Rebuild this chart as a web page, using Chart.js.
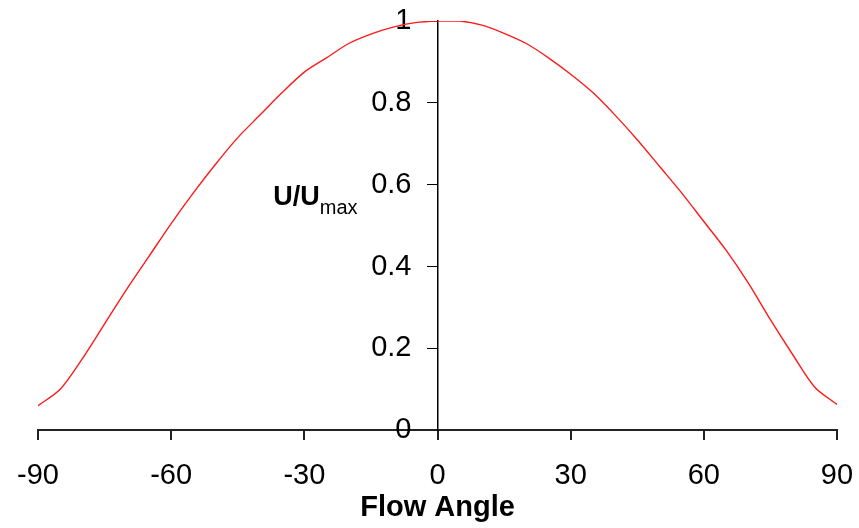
<!DOCTYPE html>
<html>
<head>
<meta charset="utf-8">
<script src="https://cdn.jsdelivr.net/npm/chart.js@4/dist/chart.umd.min.js"></script>
<style>
  html, body { margin: 0; padding: 0; background: #fff; }
  #wrap { width: 859px; height: 528px; }
</style>
</head>
<body>
<div id="wrap"><canvas id="flow-chart" width="859" height="528"></canvas></div>
<script>
// angles en degrés
const flowAngles = [-90, -85, -80, -75, -70, -65, -60, -55, -50, -45, -40, -35, -30, -25, -20, -15, -10, -5,
                    0, 5, 10, 15, 20, 25, 30, 35, 40, 45, 50, 55, 60, 65, 70, 75, 80, 85, 90];
// U/Umax
const velocityRatio = [0.06, 0.10, 0.175, 0.26, 0.345, 0.425, 0.505, 0.58, 0.65, 0.715, 0.77, 0.825, 0.875, 0.91, 0.945, 0.968, 0.985, 0.996,
                       1.0, 1.0, 0.99, 0.97, 0.945, 0.91, 0.87, 0.825, 0.77, 0.71, 0.645, 0.58, 0.51, 0.44, 0.36, 0.27, 0.185, 0.105, 0.063];
const xTicks = [-90, -60, -30, 0, 30, 60, 90];
const yTicks = [0, 0.2, 0.4, 0.6, 0.8, 1];

Chart.defaults.font.family = "'Liberation Sans', Arial, sans-serif";
Chart.defaults.color = '#000';

// titre de l'axe y avec indice "max"
const yTitlePlugin = {
  id: 'yTitle',
  afterDraw(chart) {
    const ctx = chart.ctx;
    const x = chart.scales.x.getPixelForValue(-37);
    const y = chart.scales.y.getPixelForValue(0.55);
    ctx.save();
    ctx.fillStyle = '#000';
    ctx.textBaseline = 'alphabetic';
    ctx.textAlign = 'left';
    ctx.font = "bold 27px 'Liberation Sans', Arial, sans-serif";
    ctx.fillText('U/U', x, y);
    const w = ctx.measureText('U/U').width;
    ctx.font = "20px 'Liberation Sans', Arial, sans-serif";
    ctx.fillText('max', x + w, y + 9);
    ctx.restore();
  }
};

const points = flowAngles.map((a, i) => ({ x: a, y: velocityRatio[i] }));

const ctx = document.getElementById('flow-chart').getContext('2d');
const flowChart = new Chart(ctx, {
  type: 'line',
  data: {
    datasets: [{
      data: points,
      borderColor: '#ff1a1a',
      borderWidth: 1.4,
      pointRadius: 0,
      fill: false,
      tension: 0.3
    }]
  },
  options: {
    responsive: false,
    animation: false,
    layout: { padding: { left: 38, right: 22, top: 21, bottom: 0 } },
    plugins: {
      legend: { display: false },
      tooltip: { enabled: false }
    },
    scales: {
      x: {
        type: 'linear',
        min: -90,
        max: 90,
        afterBuildTicks: axis => { axis.ticks = xTicks.map(v => ({ value: v })); },
        ticks: { font: { size: 29, lineHeight: 1.0 }, padding: 0, maxRotation: 0 },
        // marque de 9px, étiquette plus bas
        grid: { drawOnChartArea: false, drawTicks: true, tickLength: 31, color: '#222', lineWidth: 2, tickBorderDash: [9, 60] },
        border: { color: '#222', width: 2 },
        title: { display: true, text: 'Flow Angle', font: { size: 29, weight: 'bold', lineHeight: 1.2 }, padding: { top: 0, bottom: 3 } }
      },
      y: {
        type: 'linear',
        position: 'center',
        min: 0,
        max: 1,
        afterBuildTicks: axis => { axis.ticks = yTicks.map(v => ({ value: v })); },
        afterFit: axis => { axis.paddingTop = 0; axis.paddingBottom = 0; },
        ticks: { font: { size: 29 }, callback: v => String(v) },
        // marque de 10px, étiquette décalée de 23px
        grid: { drawOnChartArea: false, drawTicks: true, tickLength: 23, color: '#000', lineWidth: 1, tickBorderDash: [10, 40] },
        border: { color: '#000', width: 1.5 }
      }
    }
  },
  plugins: [yTitlePlugin]
});
</script>
</body>
</html>
